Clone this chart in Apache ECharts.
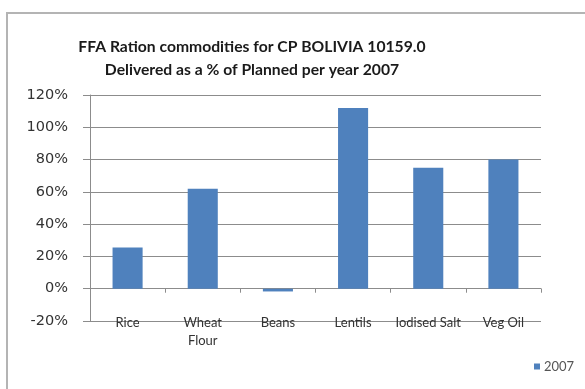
<!DOCTYPE html>
<html>
<head>
<meta charset="utf-8">
<style>
  html, body { margin: 0; padding: 0; background: #fff; }
  #chart { width: 585px; height: 389px; }
</style>
<script src="https://cdn.jsdelivr.net/npm/echarts@6/dist/echarts.min.js"></script>
</head>
<body>
<div id="chart"></div>
<script>
// Commodities and delivered share of planned quantity (%), year 2007
const categories = ['Rice', 'Wheat\nFlour', 'Beans', 'Lentils', 'Iodised Salt', 'Veg Oil'];
const delivered2007 = [25.5, 62, -1.7, 112, 75, 80];
const seriesName = '2007';
const titleLines = ['FFA Ration commodities for CP BOLIVIA 10159.0', 'Delivered as a % of Planned per year 2007'];
const yTicks = { min: -20, max: 120, step: 20 };

const chart = echarts.init(document.getElementById('chart'), null, { renderer: 'canvas' });

const font = 'Lato, "Open Sans", "Liberation Sans", sans-serif';

chart.setOption({
  animation: false,
  backgroundColor: '#ffffff',
  graphic: [
    {
      type: 'rect',
      shape: { x: 7, y: 13, width: 620, height: 420 },
      style: { fill: 'none', stroke: '#b4b4b4', lineWidth: 2 },
      silent: true
    },
    {
      type: 'text',
      x: 252, y: 47,
      style: {
        text: titleLines[0], fill: '#1a1a1a', align: 'center', verticalAlign: 'middle',
        font: 'bold 15.7px ' + font
      },
      silent: true
    },
    {
      type: 'text',
      x: 252, y: 70,
      style: {
        text: titleLines[1], fill: '#1a1a1a', align: 'center', verticalAlign: 'middle',
        font: 'bold 15.7px ' + font
      },
      silent: true
    }
  ],
  legend: {
    data: [seriesName],
    left: 529,
    top: 355,
    itemWidth: 6,
    itemHeight: 6,
    itemGap: 5,
    icon: 'rect',
    textStyle: { fontFamily: font, fontSize: 13, color: '#555', padding: [0, 0, 0, -1] }
  },
  grid: { left: 90, right: 44, top: 95, bottom: 68 },
  xAxis: {
    type: 'category',
    data: categories,
    axisLine: { onZero: true, lineStyle: { color: '#8c8c8c', width: 1 } },
    axisTick: { show: true, length: 4, lineStyle: { color: '#8c8c8c' } },
    axisLabel: {
      margin: -7,
      interval: 0,
      fontFamily: font,
      fontSize: 13,
      lineHeight: 18,
      color: '#333'
    }
  },
  yAxis: {
    type: 'value',
    min: yTicks.min,
    max: yTicks.max,
    interval: yTicks.step,
    axisLine: { show: true, lineStyle: { color: '#8c8c8c', width: 1 } },
    axisTick: { show: true, length: 7, lineStyle: { color: '#8c8c8c' } },
    splitLine: { show: true, lineStyle: { color: '#8c8c8c', width: 1 } },
    axisLabel: {
      margin: 22,
      formatter: '{value}%',
      fontFamily: '"DejaVu Sans", sans-serif',
      fontSize: 14.5,
      color: '#333'
    }
  },
  series: [{
    name: seriesName,
    type: 'bar',
    data: delivered2007,
    barWidth: '40%',
    itemStyle: { color: '#4f81bd' }
  }]
});
</script>
</body>
</html>
